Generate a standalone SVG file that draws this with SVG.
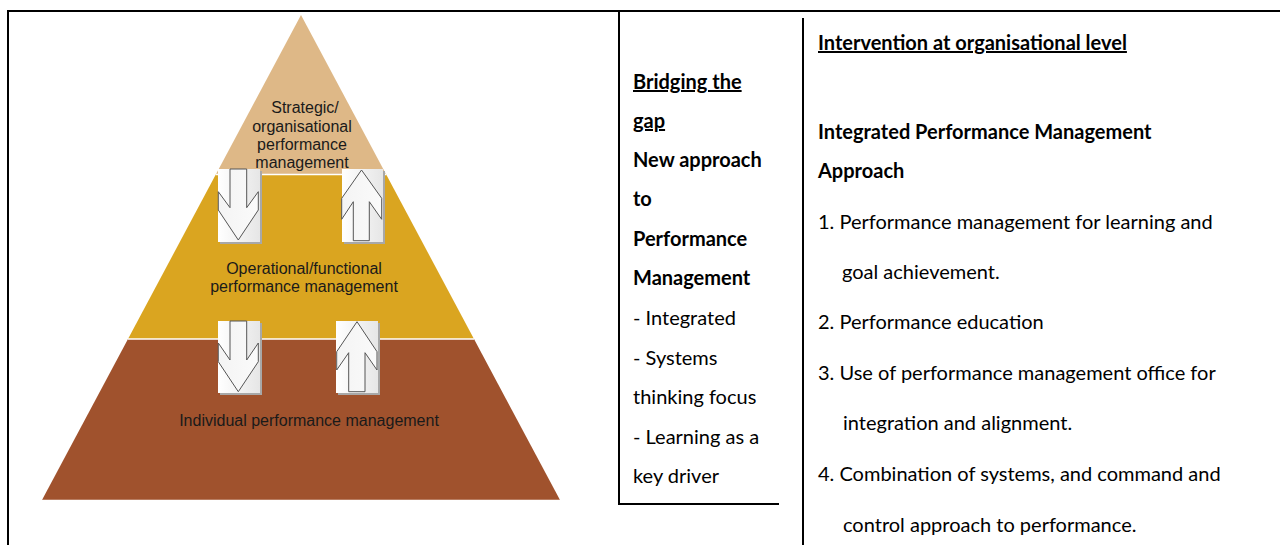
<svg xmlns="http://www.w3.org/2000/svg" width="1280" height="545" viewBox="0 0 1280 545">
<style>
.frame{stroke:#000;stroke-width:2;fill:none}
.pyr{font-family:"Liberation Sans",Arial,sans-serif;font-size:16px;fill:#1a1a1a;text-anchor:middle}
.col{font-family:Lato,"Open Sans",sans-serif;font-size:20px;fill:#000}
.b{font-weight:bold}
.u{text-decoration:underline}
.sep{stroke:#fff;stroke-width:1.5}
.box{fill:url(#boxg)}
.shadow{fill:#a8a8a8}
.arrow{fill:url(#arrg);stroke:#555;stroke-width:1}
</style>
<defs>
<linearGradient id="boxg" x1="0" y1="0" x2="1" y2="0">
<stop offset="0" stop-color="#ffffff"/>
<stop offset="1" stop-color="#e6e6e6"/>
</linearGradient>
<linearGradient id="arrg" x1="0" y1="0" x2="1" y2="0">
<stop offset="0" stop-color="#f4f4f4"/>
<stop offset="1" stop-color="#fafafa"/>
</linearGradient>
</defs>
<rect width="1280" height="545" fill="#fff"/>
<g id="frame">
<path class="frame" d="M8,545 V11 H1280"/>
<path class="frame" d="M619,11 V504 H779"/>
<path class="frame" d="M803,18 V545"/>
</g>
<g id="pyramid">
<polygon points="301,15 386.2,174.5 215.8,174.5" fill="#DEB887"/>
<polygon points="215.8,174.5 386.2,174.5 474,339 128,339" fill="#DAA520"/>
<polygon points="128,339 474,339 560,500 42,500" fill="#A0522D"/>
<line class="sep" x1="215.8" y1="174.5" x2="386.2" y2="174.5"/>
<line class="sep" x1="128" y1="339" x2="474" y2="339"/>
<line class="sep" x1="42" y1="500.5" x2="560" y2="500.5"/>
</g>
<g id="level-strategic">
<text class="pyr" x="305" y="113">Strategic/</text>
<text class="pyr" x="302" y="132">organisational</text>
<text class="pyr" x="302" y="150">performance</text>
<text class="pyr" x="302" y="168">management</text>
</g>
<g id="level-operational">
<text class="pyr" x="304" y="274">Operational/functional</text>
<text class="pyr" x="304" y="292">performance management</text>
</g>
<g id="level-individual">
<text class="pyr" x="309" y="426">Individual performance management</text>
</g>
<g id="arrow-down-1">
<rect class="shadow" x="220" y="171" width="42" height="73"/>
<rect class="box" x="218" y="169" width="42" height="73"/>
<polygon class="arrow" points="230,169 246.7,169 246.7,207.7 258.3,191.7 258.3,210 238.3,240 218.3,210 218.3,191.7 230,207.7"/>
</g>
<g id="arrow-up-1">
<rect class="shadow" x="344" y="171" width="41" height="73"/>
<rect class="box" x="342" y="169" width="41" height="73"/>
<polygon class="arrow" points="361.5,170 381.7,198.3 381.7,219.3 369.3,201.7 369.3,240.7 353.3,240.7 353.3,201.7 341.7,219.3 341.7,198.3"/>
</g>
<g id="arrow-down-2">
<rect class="shadow" x="220" y="323" width="42" height="72"/>
<rect class="box" x="218" y="321" width="42" height="72"/>
<polygon class="arrow" points="230,321 246.7,321 246.7,360 258.3,343 258.3,361.7 238.3,391.7 218.3,361.7 218.3,343 230,360"/>
</g>
<g id="arrow-up-2">
<rect class="shadow" x="338" y="323" width="42" height="72"/>
<rect class="box" x="336" y="321" width="42" height="72"/>
<polygon class="arrow" points="357,321.7 377,351.7 377,370 365,352.7 365,391.7 348.7,391.7 348.7,352.7 336.7,370 336.7,351.7"/>
</g>
<g id="bridging">
<text class="col b u" x="633" y="89">Bridging the</text>
<text class="col b u" x="633" y="128">gap</text>
<text class="col b" x="633" y="167">New approach</text>
<text class="col b" x="633" y="206">to</text>
<text class="col b" x="633" y="246">Performance</text>
<text class="col b" x="633" y="285">Management</text>
<text class="col" x="633" y="325">- Integrated</text>
<text class="col" x="633" y="365">- Systems</text>
<text class="col" x="633" y="404">thinking focus</text>
<text class="col" x="633" y="444">- Learning as a</text>
<text class="col" x="633" y="483">key driver</text>
</g>
<g id="intervention">
<text class="col b u" x="818" y="50">Intervention at organisational level</text>
<text class="col b" x="818" y="139">Integrated Performance Management</text>
<text class="col b" x="818" y="178">Approach</text>
<text class="col" x="818" y="229">1. Performance management for learning and</text>
<text class="col" x="842" y="279">goal achievement.</text>
<text class="col" x="818" y="329">2. Performance education</text>
<text class="col" x="818" y="380">3. Use of performance management office for</text>
<text class="col" x="843" y="430">integration and alignment.</text>
<text class="col" x="818" y="481">4. Combination of systems, and command and</text>
<text class="col" x="843" y="532">control approach to performance.</text>
</g>
</svg>
